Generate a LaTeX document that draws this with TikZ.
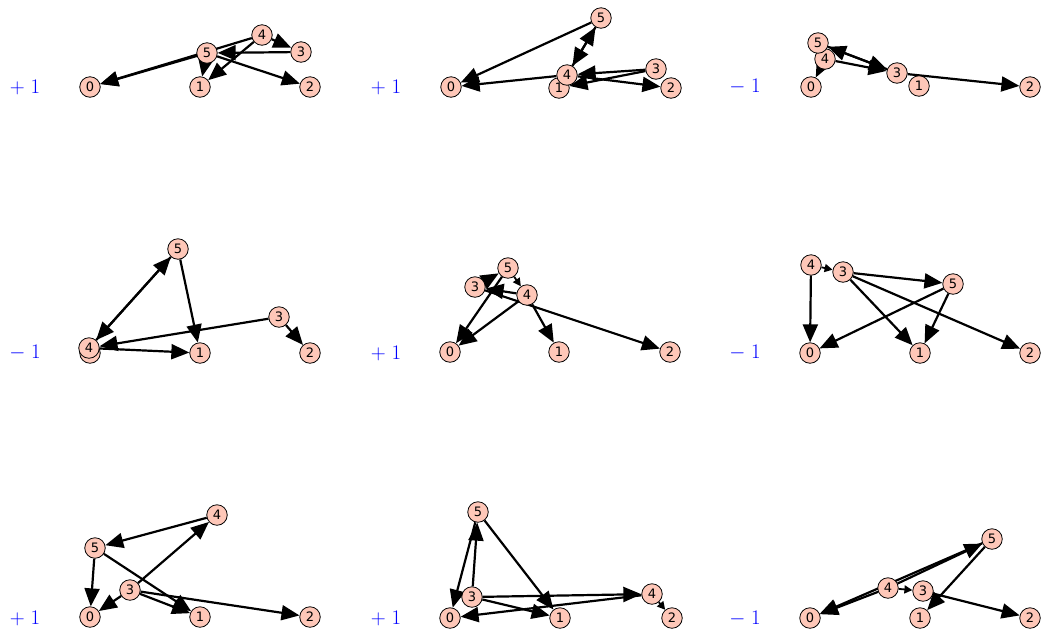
\documentclass[tikz,border=0pt]{standalone}
\usepackage{fontspec}
\newfontfamily\dejavu{DejaVu Sans}
\usetikzlibrary{arrows.meta}
\definecolor{vfill}{HTML}{FEC7B8}
\pgfdeclarelayer{bg}
\pgfsetlayers{bg,main}
\begin{document}
\begin{tikzpicture}[x=1pt,y=-1pt,
  vtx/.style={circle,draw=black,line width=0.8pt,fill=vfill,minimum size=20.5pt,inner sep=0pt,
    font=\dejavu\fontsize{13}{13}\selectfont},
  arc/.style={line width=2.2pt,-{Triangle[length=18pt,width=15pt]}},
  smallarc/.style={line width=1.8pt,-{Triangle[length=8pt,width=8pt]}},
  sgn/.style={text=blue,font=\fontsize{21}{21}\selectfont}]
\useasboundingbox (0,0) rectangle (1041,633);
% ---------- panel A ----------
\node[sgn] (sa) at (25,87) {$+\mkern5mu1$};
\node[vtx] (a0) at (90,87) {0};
\node[vtx] (a1) at (200,87) {1};
\node[vtx] (a2) at (310,87) {2};
\node[vtx] (a3) at (301,52) {3};
\node[vtx] (a4) at (262,35) {4};
\node[vtx] (a5) at (207,53) {5};
\begin{pgfonlayer}{bg}
\draw[arc] (a4) -- (a0); \draw[arc] (a5) -- (a0);
\draw[arc] (a4) -- (a1); \draw[arc] (a5) -- (a1);
\draw[arc] (a3) -- (a5); \draw[arc] (a4) -- (a3);
\draw[arc] (a5) -- (a2);
\end{pgfonlayer}
% ---------- panel B ----------
\node[sgn] (sb) at (386,87) {$+\mkern5mu1$};
\node[vtx] (b0) at (451,87) {0};
\node[vtx] (b1) at (559,88) {1};
\node[vtx] (b2) at (671,88) {2};
\node[vtx] (b3) at (656,69) {3};
\node[vtx] (b4) at (567,75) {4};
\node[vtx] (b5) at (601,18) {5};
\begin{pgfonlayer}{bg}
\draw[arc] (b5) -- (b0); \draw[arc] (b4) -- (b0);
\draw[arc] (b4) -- (b5); \draw[arc] (b5) -- (b4);
\draw[arc] (b3) -- (b4); \draw[arc] (b3) -- (b1);
\draw[arc] (b4) -- (b2);
\end{pgfonlayer}
% ---------- panel C ----------
\node[sgn] (sc) at (745,87) {$-\mkern5mu1$};
\node[vtx] (c0) at (811,87) {0};
\node[vtx] (c1) at (919,86) {1};
\node[vtx] (c2) at (1030,87) {2};
\node[vtx] (c3) at (897,73) {3};
\node[vtx] (c4) at (825,59) {4};
\node[vtx] (c5) at (818,43) {5};
\begin{pgfonlayer}{bg}
\draw[arc] (c4) -- (c3); \draw[arc] (c5) -- (c3);
\draw[arc] (c3) -- (c5); \draw[arc] (c3) -- (c2);
\draw[arc] (c4) -- (c0);
\end{pgfonlayer}
% ---------- panel D ----------
\node[sgn] (sd) at (25,353) {$-\mkern5mu1$};
\node[vtx] (d0) at (90,353) {0};
\node[vtx] (d1) at (200,353) {1};
\node[vtx] (d2) at (310,353) {2};
\node[vtx] (d3) at (279,317) {3};
\node[vtx] (d4) at (89,348) {4};
\node[vtx] (d5) at (178,249) {5};
\begin{pgfonlayer}{bg}
\draw[arc] (d4) -- (d5); \draw[arc] (d5) -- (d4);
\draw[arc] (d5) -- (d1); \draw[arc] (d3) -- (d4);
\draw[arc] (d3) -- (d2); \draw[arc] (d4) -- (d1);
\end{pgfonlayer}
% ---------- panel E ----------
\node[sgn] (se) at (386,353) {$+\mkern5mu1$};
\node[vtx] (e0) at (450,352) {0};
\node[vtx] (e1) at (559,352) {1};
\node[vtx] (e2) at (670,352) {2};
\node[vtx] (e3) at (475,287) {3};
\node[vtx] (e4) at (527,295) {4};
\node[vtx] (e5) at (508,268) {5};
\begin{pgfonlayer}{bg}
\draw[arc] (e5) -- (e0); \draw[arc] (e4) -- (e0);
\draw[arc] (e4) -- (e1); \draw[arc] (e4) -- (e3);
\draw[arc] (e3) -- (e5); \draw[arc] (e3) -- (e2);
\draw[smallarc] (e5) -- (e4);
\end{pgfonlayer}
% ---------- panel F ----------
\node[sgn] (sf) at (745,353) {$-\mkern5mu1$};
\node[vtx] (f0) at (810,353) {0};
\node[vtx] (f1) at (920,353) {1};
\node[vtx] (f2) at (1030,353) {2};
\node[vtx] (f3) at (843,272) {3};
\node[vtx] (f4) at (811,265) {4};
\node[vtx] (f5) at (953,284) {5};
\begin{pgfonlayer}{bg}
\draw[arc] (f4) -- (f0); \draw[smallarc] (f4) -- (f3);
\draw[arc] (f3) -- (f5); \draw[arc] (f3) -- (f1);
\draw[arc] (f3) -- (f2); \draw[arc] (f5) -- (f0);
\draw[arc] (f5) -- (f1);
\end{pgfonlayer}
% ---------- panel G ----------
\node[sgn] (sg) at (25,618) {$+\mkern5mu1$};
\node[vtx] (g0) at (90,617) {0};
\node[vtx] (g1) at (200,617) {1};
\node[vtx] (g2) at (310,617) {2};
\node[vtx] (g3) at (130,590) {3};
\node[vtx] (g4) at (217,515) {4};
\node[vtx] (g5) at (95,548) {5};
\begin{pgfonlayer}{bg}
\draw[arc] (g4) -- (g5); \draw[arc] (g3) -- (g4);
\draw[arc] (g5) -- (g0); \draw[arc] (g5) -- (g1);
\draw[arc] (g3) -- (g1); \draw[arc] (g3) -- (g0);
\draw[arc] (g3) -- (g2);
\end{pgfonlayer}
% ---------- panel H ----------
\node[sgn] (sh) at (386,618) {$+\mkern5mu1$};
\node[vtx] (h0) at (450,618) {0};
\node[vtx] (h1) at (560,618) {1};
\node[vtx] (h2) at (672,618) {2};
\node[vtx] (h3) at (472,597) {3};
\node[vtx] (h4) at (652,594) {4};
\node[vtx] (h5) at (478,512) {5};
\begin{pgfonlayer}{bg}
\draw[arc] (h5) -- (h0); \draw[arc] (h3) -- (h5);
\draw[arc] (h5) -- (h1); \draw[arc] (h3) -- (h4);
\draw[arc] (h3) -- (h1); \draw[arc] (h4) -- (h0);
\draw[smallarc] (h4) -- (h2);
\end{pgfonlayer}
% ---------- panel I ----------
\node[sgn] (si) at (745,619) {$-\mkern5mu1$};
\node[vtx] (i0) at (810,618) {0};
\node[vtx] (i1) at (920,618) {1};
\node[vtx] (i2) at (1030,618) {2};
\node[vtx] (i3) at (923,591) {3};
\node[vtx] (i4) at (888,588) {4};
\node[vtx] (i5) at (992,539) {5};
\begin{pgfonlayer}{bg}
\draw[arc] (i4) -- (i5); \draw[arc] (i5) -- (i0);
\draw[arc] (i4) -- (i0); \draw[smallarc] (i4) -- (i3);
\draw[arc] (i5) -- (i1); \draw[arc] (i3) -- (i2);
\end{pgfonlayer}
\end{tikzpicture}
\end{document}
